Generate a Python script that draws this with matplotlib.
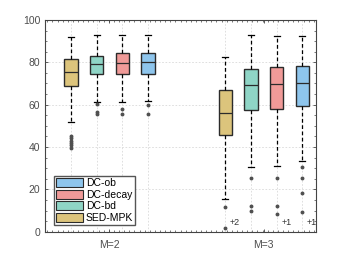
import matplotlib.pyplot as plt
from matplotlib.patches import Patch
from matplotlib.ticker import MultipleLocator

plt.rcParams["font.family"] = ["Liberation Sans", "DejaVu Sans"]

groups = ["M=2", "M=3"]
methods = ["SED-MPK", "DC-bd", "DC-decay", "DC-ob"]
colors = ["#dcc47c", "#8fd5c6", "#f09a98", "#8ec5ec"]

# stats per group, in method order
q1 = [[68.9, 74.4, 74.4, 74.7], [45.8, 57.4, 58.0, 59.6]]
med = [[75.6, 79.4, 79.6, 80.2], [56.0, 69.2, 69.7, 70.1]]
q3 = [[81.7, 83.2, 84.3, 84.4], [66.8, 76.9, 77.8, 78.1]]
whislo = [[51.7, 61.5, 61.3, 61.9], [15.4, 30.8, 31.1, 33.2]]
whishi = [[92.0, 92.8, 92.8, 93.1], [82.4, 92.8, 92.5, 92.5]]
fliers = [
    [[45.4, 44.2, 43.0, 42.0, 40.8, 39.5], [60.4, 56.7, 55.7], [58.2, 55.7], [59.9, 55.7]],
    [[11.7, 1.6], [25.6, 12.3, 9.9], [25.6, 12.3, 8.5], [30.8, 25.6, 18.2, 9.3]],
]
extra = [[None, None, None, None], ["+2", None, "+1", "+1"]]

fig = plt.figure(figsize=(3.49, 2.62), dpi=100)
ax = fig.add_axes([0.129, 0.115, 0.776, 0.809])

step = 0.166
offsets = [-1.5, -0.5, 0.5, 1.5]
for gi in range(len(groups)):
    for mi in range(len(methods)):
        pos = gi + 1 + offsets[mi] * step
        ax.axvline(pos, color="#d9d9d9", lw=0.6, ls=(0, (2, 2)), zorder=0)
        st = dict(q1=q1[gi][mi], med=med[gi][mi], q3=q3[gi][mi],
                  whislo=whislo[gi][mi], whishi=whishi[gi][mi],
                  fliers=fliers[gi][mi])
        ax.bxp([st], positions=[pos], widths=0.087, capwidths=0.04,
               showfliers=True, patch_artist=True,
               boxprops=dict(facecolor=colors[mi], edgecolor="#2b2b2b", lw=1.0),
               medianprops=dict(color="#2b2b2b", lw=0.9),
               whiskerprops=dict(color="black", lw=0.9, ls=(0, (3, 2))),
               capprops=dict(color="black", lw=0.9),
               flierprops=dict(marker="o", markersize=1.8, markerfacecolor="#505050",
                               markeredgecolor="#505050", ls="none"))
        if extra[gi][mi]:
            ax.text(pos + 0.03, 4.5, extra[gi][mi], fontsize=6.5, color="#333333",
                    va="center", ha="left")

ax.set_xlim(0.583, 2.337)
ax.set_ylim(0, 100)
ax.set_xticks([1, 2])
ax.set_xticklabels(groups)
ax.xaxis.set_minor_locator(MultipleLocator(step / 5))
ax.set_yticks([0, 20, 40, 60, 80, 100])
ax.yaxis.set_minor_locator(MultipleLocator(5))
ax.yaxis.grid(True, color="#d9d9d9", lw=0.6, ls=(0, (2, 2)))
ax.set_axisbelow(True)
ax.tick_params(which="both", direction="in", top=True, right=True, colors="#444444",
               labelsize=7.5, labelcolor="#4d4d4d")
ax.tick_params(which="major", length=2.5, width=0.6)
ax.tick_params(which="minor", length=1.3, width=0.5)
ax.tick_params(axis="x", pad=6)
for s in ax.spines.values():
    s.set_color("#444444")
    s.set_linewidth(0.8)

handles = [Patch(facecolor=colors[i], edgecolor="#2b2b2b", lw=0.8, label=methods[i])
           for i in [3, 2, 1, 0]]
leg = ax.legend(handles=handles, loc="lower left", bbox_to_anchor=(0.033, 0.033),
                fontsize=7.5, frameon=True, fancybox=False, handlelength=2.6,
                handleheight=1.0, handletextpad=0.25, labelspacing=0.12,
                borderpad=0.2, borderaxespad=0)
leg.get_frame().set_edgecolor("#555555")
leg.get_frame().set_linewidth(1.0)
leg.get_frame().set_alpha(1)

fig.savefig("out.png", dpi=100)
